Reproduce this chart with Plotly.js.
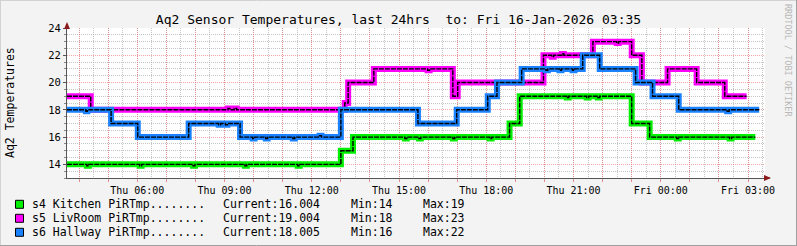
<!DOCTYPE html>
<html><head><meta charset="utf-8">
<script src="https://cdn.plot.ly/plotly-3.0.1.min.js"></script>
<style>html,body{margin:0;padding:0;background:#f3f3f3;}</style>
</head><body><div id="chart" style="width:797px;height:246px;"></div>
<script>
// ---- data ----
const kitchenTimes = ['2026-01-15 03:35','2026-01-15 04:16','2026-01-15 04:20','2026-01-15 06:05','2026-01-15 06:09','2026-01-15 07:55','2026-01-15 07:59','2026-01-15 09:42','2026-01-15 09:46','2026-01-15 11:31','2026-01-15 11:35','2026-01-15 13:00','2026-01-15 13:25','2026-01-15 15:12','2026-01-15 15:16','2026-01-15 15:41','2026-01-15 15:45','2026-01-15 16:51','2026-01-15 16:55','2026-01-15 18:07','2026-01-15 18:11','2026-01-15 18:48','2026-01-15 19:09','2026-01-15 20:46','2026-01-15 20:50','2026-01-15 21:27','2026-01-15 21:31','2026-01-15 21:50','2026-01-15 21:54','2026-01-15 23:00','2026-01-15 23:37','2026-01-16 00:33','2026-01-16 00:37','2026-01-16 02:22','2026-01-16 02:26','2026-01-16 03:15'];
const kitchenValues = [14,13.9,14,13.9,14,13.9,14,13.9,14,13.9,14,15,16,15.9,16,15.9,16,15.9,16,15.9,16,17,19,18.9,19,18.9,19,18.9,19,17,16,15.9,16,15.9,16,16];

const livroomTimes = ['2026-01-15 03:35','2026-01-15 04:24','2026-01-15 09:07','2026-01-15 09:11','2026-01-15 09:20','2026-01-15 09:25','2026-01-15 13:08','2026-01-15 13:15','2026-01-15 14:08','2026-01-15 15:59','2026-01-15 16:03','2026-01-15 16:51','2026-01-15 17:01','2026-01-15 19:58','2026-01-15 20:15','2026-01-15 20:19','2026-01-15 20:36','2026-01-15 20:40','2026-01-15 21:40','2026-01-15 22:29','2026-01-15 22:33','2026-01-15 23:00','2026-01-15 23:21','2026-01-16 00:14','2026-01-16 01:14','2026-01-16 02:12','2026-01-16 02:57'];
const livroomValues = [19,18,18.1,18,18.1,18,18.5,20,21,20.9,21,19,20,22,21.9,22,22.1,22,23,22.9,23,22,20,21,20,19,19];

const hallwayTimes = ['2026-01-15 03:35','2026-01-15 04:14','2026-01-15 04:17','2026-01-15 05:06','2026-01-15 06:01','2026-01-15 07:46','2026-01-15 08:48','2026-01-15 08:52','2026-01-15 09:02','2026-01-15 09:06','2026-01-15 09:32','2026-01-15 09:58','2026-01-15 10:02','2026-01-15 10:25','2026-01-15 10:29','2026-01-15 11:21','2026-01-15 11:25','2026-01-15 12:16','2026-01-15 12:20','2026-01-15 13:00','2026-01-15 15:39','2026-01-15 16:59','2026-01-15 18:03','2026-01-15 18:22','2026-01-15 19:13','2026-01-15 20:03','2026-01-15 20:07','2026-01-15 20:31','2026-01-15 20:35','2026-01-15 20:58','2026-01-15 21:02','2026-01-15 21:19','2026-01-15 21:54','2026-01-15 23:08','2026-01-15 23:43','2026-01-16 00:37','2026-01-16 02:17','2026-01-16 02:21','2026-01-16 03:23'];
const hallwayValues = [18,17.9,18,17,16,17,16.9,17,16.9,17,16,15.9,16,15.9,16,15.9,16,16.1,16,18,17,18,19,20,21,20.9,21,20.9,21,20.9,21,22,21,20,19,18,17.9,18,18];

const seriesNames = ['s4 Kitchen PiRTmp........','s5 LivRoom PiRTmp........','s6 Hallway PiRTmp........'];
const seriesColors = ['#00ee00','#ff00ff','#1a82ff'];
const currentVals = ['16.004','19.004','18.005'];
const minVals = ['14','18','16'];
const maxVals = ['19','23','22'];

const tickLabelTimes = ['2026-01-15 06:00','2026-01-15 09:00','2026-01-15 12:00','2026-01-15 15:00','2026-01-15 18:00','2026-01-15 21:00','2026-01-16 00:00','2026-01-16 03:00'];
const tickLabels = ['Thu 06:00','Thu 09:00','Thu 12:00','Thu 15:00','Thu 18:00','Thu 21:00','Fri 00:00','Fri 03:00'];
const xStart = '2026-01-15 03:35', xEnd = '2026-01-16 03:35';
const titleText = 'Aq2 Sensor Temperatures, last 24hrs  to: Fri 16-Jan-2026 03:35';

// ---- layout geometry ----
const W = 797, H = 246, ML = 67, MR = 32, MT = 28, MB = 68;
const PW = W - ML - MR, PH = H - MT - MB;
const px = x => (x - ML) / PW;
const py = y => (H - MB - y) / PH;
const FONT = 'DejaVu Sans Mono';

// hourly tick values
const tickvals = [], ticktext = [];
for (let h = 4; h <= 27; h++) {
  const d = h < 24 ? '2026-01-15 ' : '2026-01-16 ';
  const t = d + String(h % 24).padStart(2, '0') + ':00';
  tickvals.push(t);
  const i = tickLabelTimes.indexOf(t);
  ticktext.push(i >= 0 ? tickLabels[i] : '');
}

const allTimes = [kitchenTimes, livroomTimes, hallwayTimes];
const allValues = [kitchenValues, livroomValues, hallwayValues];
const traces = [];
for (let i = 0; i < 3; i++) {
  traces.push({x: allTimes[i], y: allValues[i], type: 'scatter', mode: 'lines',
    line: {shape: 'hv', color: seriesColors[i], width: 6}, hoverinfo: 'skip', showlegend: false});
  traces.push({x: allTimes[i], y: allValues[i], type: 'scatter', mode: 'lines',
    line: {shape: 'hv', color: '#000', width: 1.4, dash: '5px,1px'}, hoverinfo: 'skip', showlegend: false});
}

const gridRed = 'rgba(240,110,110,0.6)';
const gridGray = 'rgba(150,150,150,0.55)';

const annotations = [];
const shapes = [];
const rowY = [204.3, 218.3, 232.3];
for (let i = 0; i < 3; i++) {
  shapes.push({type: 'rect', xref: 'paper', yref: 'paper', x0: px(15.5), x1: px(23.5), y0: py(rowY[i] - 4), y1: py(rowY[i] + 4),
    fillcolor: seriesColors[i], line: {color: '#000', width: 1}});
  const cols = [[30, seriesNames[i]], [220.5, 'Current:' + currentVals[i]], [348.5, 'Min:' + minVals[i]], [420.5, 'Max:' + maxVals[i]]];
  cols.forEach(c => annotations.push({xref: 'paper', yref: 'paper', x: px(c[0]), y: py(rowY[i]), text: c[1],
    showarrow: false, xanchor: 'left', yanchor: 'middle', font: {family: FONT, size: 11.5, color: '#000'}}));
}
annotations.push({xref: 'paper', yref: 'paper', x: px(10), y: py(103), text: 'Aq2 Temperatures', textangle: -90,
  showarrow: false, xanchor: 'center', yanchor: 'middle', font: {family: FONT, size: 11.5, color: '#000'}});
annotations.push({xref: 'paper', yref: 'paper', x: px(788), y: py(60), text: 'RRDTOOL / TOBI OETIKER', textangle: 90,
  showarrow: false, xanchor: 'center', yanchor: 'middle', font: {family: FONT, size: 8.5, color: '#b8b8b8'}});

// axis arrows and frame
const tri = (pts) => 'M' + pts.map(p => px(p[0]) + ',' + py(p[1])).join(' L') + ' Z';
shapes.push({type: 'line', xref: 'paper', yref: 'paper', x0: 1, x1: px(770), y0: 0, y1: 0, line: {color: '#555', width: 1}});
shapes.push({type: 'line', xref: 'paper', yref: 'paper', x0: 0, x1: 0, y0: 1, y1: py(24), line: {color: '#555', width: 1}});
shapes.push({type: 'path', xref: 'paper', yref: 'paper', path: tri([[764, 175], [771, 178], [764, 181]]), fillcolor: '#8b1a1a', line: {width: 0}});
shapes.push({type: 'path', xref: 'paper', yref: 'paper', path: tri([[64, 29], [67, 22], [70, 29]]), fillcolor: '#8b1a1a', line: {width: 0}});
shapes.push({type: 'line', xref: 'paper', yref: 'paper', x0: px(0), x1: px(797), y0: py(0.5), y1: py(0.5), line: {color: '#d2d2d2', width: 1}});
shapes.push({type: 'line', xref: 'paper', yref: 'paper', x0: px(0.5), x1: px(0.5), y0: py(0), y1: py(246), line: {color: '#d2d2d2', width: 1}});
shapes.push({type: 'line', xref: 'paper', yref: 'paper', x0: px(0), x1: px(797), y0: py(245.5), y1: py(245.5), line: {color: '#a0a0a0', width: 1}});
shapes.push({type: 'line', xref: 'paper', yref: 'paper', x0: px(796.5), x1: px(796.5), y0: py(0), y1: py(246), line: {color: '#a0a0a0', width: 1}});

const layout = {
  width: W, height: H,
  margin: {l: ML, r: MR, t: MT, b: MB, pad: 0},
  paper_bgcolor: '#f3f3f3', plot_bgcolor: '#ffffff',
  title: {text: titleText, font: {family: FONT, size: 13, color: '#000'}, x: 0.5, xref: 'container', xanchor: 'center', y: 1 - 19 / H, yref: 'container', yanchor: 'middle'},
  showlegend: false,
  xaxis: {type: 'date', range: [xStart, xEnd], tickmode: 'array', tickvals: tickvals, ticktext: ticktext,
    ticks: 'outside', ticklen: 3, tickcolor: '#e09090', tickwidth: 1,
    showgrid: true, gridcolor: gridRed, gridwidth: 1, griddash: '1px,1px',
    minor: {dtick: 30 * 60 * 1000, showgrid: true, gridcolor: gridGray, griddash: '1px,1px', ticks: ''},
    showline: true, linecolor: '#555', linewidth: 1, zeroline: false, fixedrange: true,
    tickfont: {family: FONT, size: 10, color: '#000'}},
  yaxis: {range: [13, 24], tick0: 0, dtick: 2, ticks: 'outside', ticklen: 3, tickcolor: '#555',
    showgrid: true, gridcolor: gridRed, gridwidth: 1, griddash: '1px,1px',
    minor: {dtick: 0.5, showgrid: true, gridcolor: gridGray, griddash: '1px,1px', ticks: 'outside', ticklen: 2, tickcolor: '#888'},
    showline: true, linecolor: '#555', linewidth: 1, zeroline: false, fixedrange: true,
    tickfont: {family: FONT, size: 10.5, color: '#000'}},
  annotations: annotations, shapes: shapes
};
Plotly.newPlot('chart', traces, layout, {staticPlot: true, displayModeBar: false});
</script></body></html>
